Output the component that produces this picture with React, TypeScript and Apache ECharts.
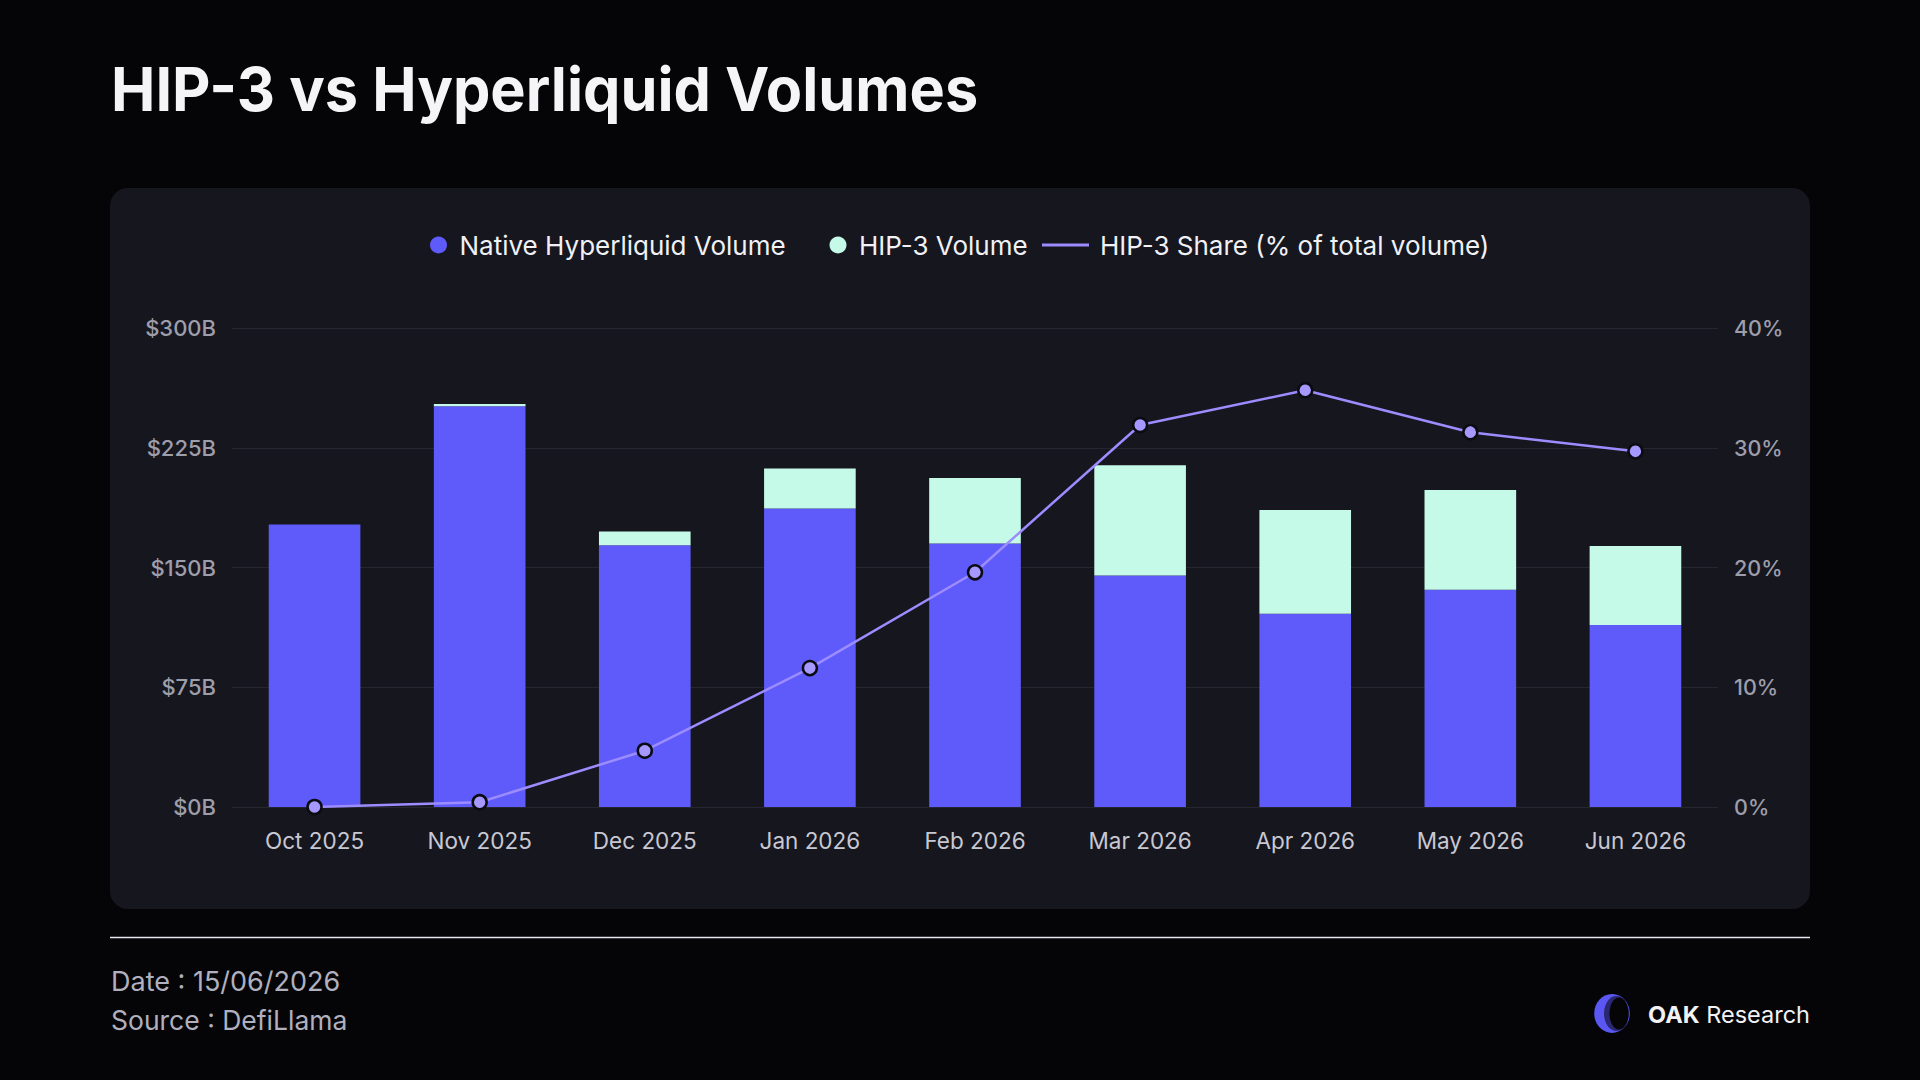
import React, { useEffect, useRef } from 'react';
import * as echarts from 'echarts';

const categories = ['Oct 2025', 'Nov 2025', 'Dec 2025', 'Jan 2026', 'Feb 2026', 'Mar 2026', 'Apr 2026', 'May 2026', 'Jun 2026'];
const nativeVolume = [177, 251, 164, 187, 165, 145, 121, 136, 114];
const hip3Volume = [0, 1.4, 8.5, 25, 41, 69, 65, 62.5, 49.5];
const hip3Share = [0, 0.4, 4.7, 11.6, 19.6, 31.9, 34.8, 31.3, 29.7];

const NATIVE = 'Native Hyperliquid Volume';
const HIP = 'HIP-3 Volume';
const SHARE = 'HIP-3 Share (% of total volume)';

const FONT = 'Inter, "Noto Sans", sans-serif';

export default function App() {
  const ref = useRef<HTMLDivElement>(null);
  useEffect(() => {
    const chart = echarts.init(ref.current!, null, { renderer: 'svg' });
    const legendText = { color: '#f0f0f5', fontSize: 26, fontFamily: FONT };
    chart.setOption({
      animation: false,
      backgroundColor: 'transparent',
      textStyle: { fontFamily: FONT },
      grid: { left: 232, right: 202, top: 328, bottom: 273, containLabel: false },
      legend: [
        {
          left: 425, top: 227, itemWidth: 32, itemHeight: 17, icon: 'circle',
          data: [NATIVE], textStyle: legendText, selectedMode: false,
        },
        {
          left: 824.5, top: 227, itemWidth: 32, itemHeight: 17, icon: 'circle',
          data: [HIP], textStyle: legendText, selectedMode: false,
        },
        {
          left: 1037, top: 227, itemWidth: 47, itemHeight: 3,
          data: [{ name: SHARE, icon: 'rect', itemStyle: { color: '#9C8CFF', borderWidth: 0 } }],
          textStyle: { ...legendText, padding: [0, 0, 0, 6] }, selectedMode: false,
        },
      ],
      xAxis: {
        type: 'category',
        data: categories,
        axisLine: { show: false },
        axisTick: { show: false },
        axisLabel: { color: '#c8c8d2', fontSize: 22.5, margin: 22, fontFamily: FONT },
      },
      yAxis: [
        {
          type: 'value', min: 0, max: 300, interval: 75,
          axisLabel: { formatter: '${value}B', color: '#9e9eab', fontSize: 22, fontWeight: 500, margin: 16, fontFamily: FONT },
          splitLine: { lineStyle: { color: '#262631', width: 1 } },
          axisLine: { show: false }, axisTick: { show: false },
        },
        {
          type: 'value', min: 0, max: 40, interval: 10,
          axisLabel: { formatter: '{value}%', color: '#9e9eab', fontSize: 21.5, fontWeight: 500, margin: 16, fontFamily: FONT },
          splitLine: { show: false },
          axisLine: { show: false }, axisTick: { show: false },
        },
      ],
      series: [
        {
          name: NATIVE, type: 'bar', stack: 'vol', barWidth: '55.5%',
          data: nativeVolume, itemStyle: { color: '#5F5BFA' },
        },
        {
          name: HIP, type: 'bar', stack: 'vol', barWidth: '55.5%',
          data: hip3Volume, itemStyle: { color: '#C5FAE8' },
        },
        {
          name: SHARE, type: 'line', yAxisIndex: 1, z: 5,
          data: hip3Share, symbol: 'circle', symbolSize: 14,
          lineStyle: { color: '#9C8CFF', width: 2.5 },
          itemStyle: { color: '#A599FF', borderColor: '#0b0b12', borderWidth: 2.5 },
        },
      ],
      graphic: [
        {
          type: 'text', x: 111, y: 89.5, scaleX: 0.974,
          style: { text: 'HIP-3 vs Hyperliquid Volumes', fontSize: 61, fontWeight: 700, fontFamily: FONT, fill: '#f5f5f7', verticalAlign: 'middle' },
        },
        {
          type: 'line', shape: { x1: 110, y1: 937.5, x2: 1810, y2: 937.5 },
          style: { stroke: '#e6e6ee', lineWidth: 1.5 },
        },
        {
          type: 'text', x: 111, y: 981,
          style: { text: 'Date : 15/06/2026', fontSize: 27, fontFamily: FONT, fill: '#b0b0be', verticalAlign: 'middle' },
        },
        {
          type: 'text', x: 111, y: 1019.5,
          style: { text: 'Source : DefiLlama', fontSize: 26.5, fontFamily: FONT, fill: '#b0b0be', verticalAlign: 'middle' },
        },
        { type: 'ellipse', shape: { cx: 1612, cy: 1013.5, rx: 17.8, ry: 19.4 }, style: { fill: '#5B57F2' } },
        { type: 'ellipse', shape: { cx: 1616.5, cy: 1013.5, rx: 12.5, ry: 17.5 }, style: { fill: '#2a2870' } },
        { type: 'ellipse', shape: { cx: 1619, cy: 1013.5, rx: 9.5, ry: 16 }, style: { fill: '#050508' } },
        {
          type: 'text', x: 1810, y: 1014.7,
          style: {
            text: '{b|OAK} Research', fontSize: 23.5, fontFamily: FONT, fill: '#f2f2f5',
            align: 'right', verticalAlign: 'middle',
            rich: { b: { fontSize: 23.5, fontWeight: 700, fontFamily: FONT, fill: '#f2f2f5' } },
          },
        },
      ],
    });
    return () => chart.dispose();
  }, []);
  return (
    <div style={{ position: 'fixed', left: 0, top: 0, width: 1920, height: 1080, background: '#050508', overflow: 'hidden' }}>
      <div style={{ position: 'absolute', left: 110, top: 188, width: 1700, height: 721, borderRadius: 18, background: '#16161F' }} />
      <div ref={ref} style={{ position: 'absolute', left: 0, top: 0, width: 1920, height: 1080 }} />
    </div>
  );
}
